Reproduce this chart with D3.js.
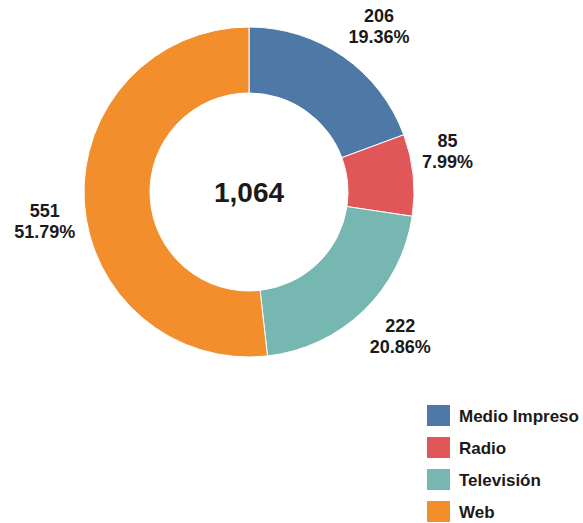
<!DOCTYPE html>
<html>
<head>
<meta charset="utf-8">
<script src="https://cdn.jsdelivr.net/npm/d3@7"></script>
<style>
  html, body { margin: 0; padding: 0; background: #fff; }
  svg { display: block; font-family: "Liberation Sans", Arial, sans-serif; }
</style>
</head>
<body>
<svg id="chart" width="583" height="523"></svg>
<script>
// Medios: número de notas por tipo de medio
const categories = ["Medio Impreso", "Radio", "Televisión", "Web"];
const values = [206, 85, 222, 551];
const percentLabels = ["19.36%", "7.99%", "20.86%", "51.79%"];
const colors = ["#4e79a7", "#e15759", "#76b7b2", "#f28e2b"];

const svg = d3.select("#chart");
const cx = 249, cy = 192;
const outerR = 165, innerR = 99;
const labelGap = 9;

const total = d3.sum(values);
const color = d3.scaleOrdinal().domain(categories).range(colors);

const pie = d3.pie().sort(null).value(d => d.value);
const arcs = pie(categories.map((c, i) => ({ name: c, value: values[i], pct: percentLabels[i] })));
const arc = d3.arc().innerRadius(innerR).outerRadius(outerR);

const g = svg.append("g").attr("transform", `translate(${cx},${cy})`);

g.selectAll("path.slice")
  .data(arcs)
  .join("path")
  .attr("class", "slice")
  .attr("d", arc)
  .attr("fill", d => color(d.data.name))
  .attr("stroke", "#fff")
  .attr("stroke-width", 1);

// Total in the hole
g.append("text")
  .attr("text-anchor", "middle")
  .attr("dy", "0.36em")
  .attr("font-size", 28)
  .attr("font-weight", "bold")
  .attr("fill", "#1a1a1a")
  .text(d3.format(",")(total));

// Two-line value labels placed just outside the ring, the block's nearest
// corner sitting on a circle slightly larger than the ring.
const lineH = 21;
const fs = 18;
arcs.forEach(d => {
  const mid = (d.startAngle + d.endAngle) / 2;
  const s = Math.sin(mid), c = Math.cos(mid);
  const r = outerR + labelGap;
  const px = r * s, py = -r * c;

  const t = g.append("text")
    .attr("font-size", fs)
    .attr("font-weight", "bold")
    .attr("fill", "#1a1a1a")
    .attr("text-anchor", "middle");
  const l1 = t.append("tspan").text(d3.format(",")(d.data.value));
  const l2 = t.append("tspan").text(d.data.pct);

  const w = Math.max(l1.node().getComputedTextLength(), l2.node().getComputedTextLength());
  const xMid = s >= 0 ? px + w / 2 : px - w / 2;
  const blockH = lineH * 2;
  // baseline of the first line; cap height ~0.72em
  const top = c > 0 ? py - blockH : py;
  const b1 = top + fs * 0.72 + 2;
  l1.attr("x", xMid).attr("y", b1);
  l2.attr("x", xMid).attr("y", b1 + lineH);
});

// Legend
const legend = svg.append("g").attr("transform", "translate(427,405)");
const rowH = 32;
const items = legend.selectAll("g.item")
  .data(categories)
  .join("g")
  .attr("class", "item")
  .attr("transform", (d, i) => `translate(0,${i * rowH})`);

items.append("rect")
  .attr("width", 23)
  .attr("height", 21)
  .attr("fill", d => color(d));

items.append("text")
  .attr("x", 32)
  .attr("y", 10.5)
  .attr("dy", "0.36em")
  .attr("font-size", 17)
  .attr("font-weight", "bold")
  .attr("fill", "#1a1a1a")
  .text(d => d);
</script>
</body>
</html>
